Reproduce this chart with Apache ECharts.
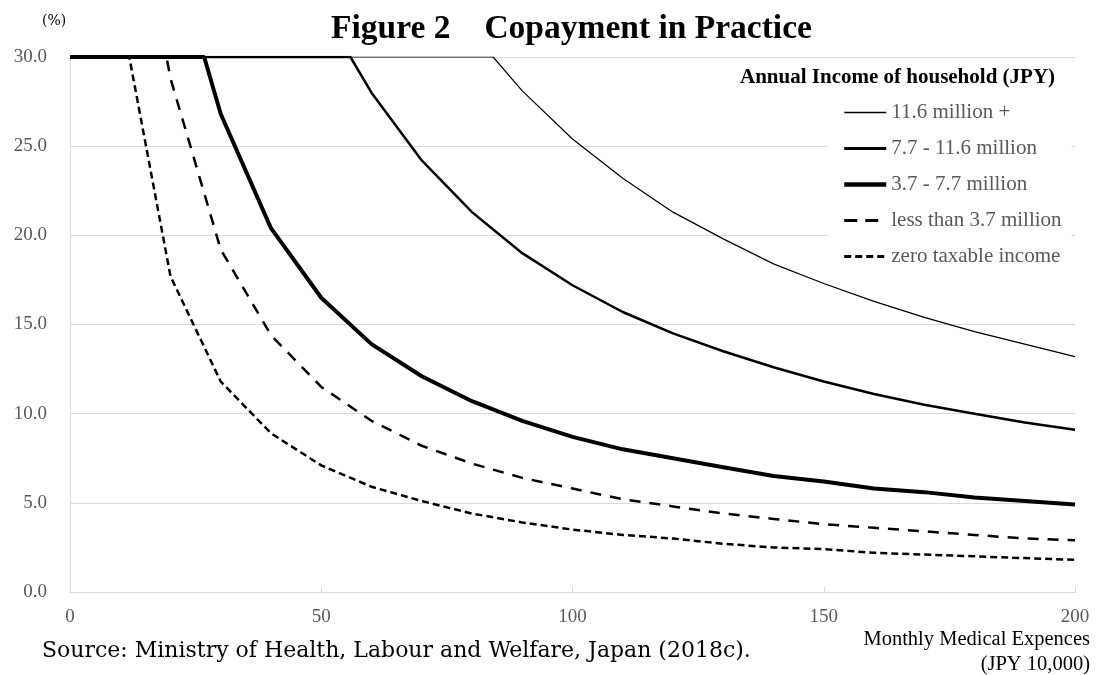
<!DOCTYPE html>
<html>
<head>
<meta charset="utf-8">
<script src="https://cdn.jsdelivr.net/npm/echarts@6/dist/echarts.min.js"></script>
<style>
  html, body { margin: 0; padding: 0; background: #fff; }
  #chart { width: 1097px; height: 675px; }
</style>
</head>
<body>
<div id="chart"></div>
<script>
// monthly medical expenses (JPY 10,000)
var expense = [0, 10, 20, 30, 40, 50, 60, 70, 80, 90, 100, 110, 120, 130, 140, 150, 160, 170, 180, 190, 200];

// point where each line leaves the 30% ceiling
var kinkHigh = 84.2;
var kinkUpper = 55.8;
var kinkMiddle = 26.7;
var kinkLow = 19.2;
var kinkZero = 11.8;

// copayment ratio (%) read at each expense value
var rateHigh = [30, 30, 30, 30, 30, 30, 30, 30, 30, 28.1, 25.4, 23.2, 21.3, 19.8, 18.4, 17.3, 16.3, 15.4, 14.6, 13.9, 13.2];
var rateUpper = [30, 30, 30, 30, 30, 30, 28.0, 24.2, 21.3, 19.0, 17.2, 15.7, 14.5, 13.5, 12.6, 11.8, 11.1, 10.5, 10.0, 9.5, 9.1];
var rateMiddle = [30, 30, 30, 26.8, 20.4, 16.5, 13.9, 12.1, 10.7, 9.6, 8.7, 8.0, 7.5, 7.0, 6.5, 6.2, 5.8, 5.6, 5.3, 5.1, 4.9];
var rateLow = [30, 30, 28.8, 19.2, 14.4, 11.5, 9.6, 8.2, 7.2, 6.4, 5.8, 5.2, 4.8, 4.4, 4.1, 3.8, 3.6, 3.4, 3.2, 3.0, 2.9];
var rateZero = [30, 30, 17.7, 11.8, 8.9, 7.1, 5.9, 5.1, 4.4, 3.9, 3.5, 3.2, 3.0, 2.7, 2.5, 2.4, 2.2, 2.1, 2.0, 1.9, 1.8];

var names = ['11.6 million +', '7.7 - 11.6 million', '3.7 - 7.7 million', 'less than 3.7 million', 'zero taxable income'];

function buildData(rates, kink) {
    var out = [];
    var added = false;
    for (var i = 0; i < expense.length; i++) {
        if (!added && expense[i] > kink) {
            out.push([kink, 30]);
            added = true;
        }
        out.push([expense[i], rates[i]]);
    }
    return out;
}

// line look for the plot, and a slightly different dash for the legend swatch
var styles = [
    { width: 1.2, type: 'solid', legendType: 'solid' },
    { width: 2.5, type: 'solid', legendType: 'solid' },
    { width: 4, type: 'solid', legendType: 'solid' },
    { width: 2.5, type: [11, 9], legendType: [13, 8] },
    { width: 2.5, type: [7, 4], legendType: [7, 4] }
];

function lineSeries(i, rates, kink) {
    return {
        name: names[i],
        type: 'line',
        symbol: 'none',
        smooth: false,
        data: buildData(rates, kink),
        lineStyle: { color: '#000', width: styles[i].width, type: styles[i].type, cap: 'butt' },
        itemStyle: { color: '#000' }
    };
}

var serif = 'Liberation Serif';
var chart = echarts.init(document.getElementById('chart'));
chart.setOption({
    backgroundColor: '#fff',
    animation: false,
    title: {
        text: 'Figure 2\u3000Copayment in Practice',
        left: 326,
        top: 7,
        textStyle: { fontFamily: serif, fontWeight: 'bold', fontSize: 33.5, color: '#000' }
    },
    grid: { left: 70, right: 22, top: 57, bottom: 83 },
    legend: {
        orient: 'vertical',
        left: 828,
        top: 100,
        itemWidth: 42,
        itemHeight: 14,
        itemGap: 15,
        padding: [2, 10, 2, 14],
        backgroundColor: '#fff',
        itemStyle: { color: 'transparent', opacity: 0, borderWidth: 0 },
        textStyle: { fontFamily: serif, fontSize: 21, color: '#595959' },
        data: names.map(function (n, i) {
            return { name: n, lineStyle: { color: '#000', width: styles[i].width + 0.5, type: styles[i].legendType } };
        })
    },
    xAxis: {
        type: 'value',
        min: 0,
        max: 200,
        interval: 50,
        splitLine: { show: false },
        axisLine: { show: true, lineStyle: { color: '#d9d9d9', width: 1 } },
        axisTick: { show: true, inside: true, length: 5, lineStyle: { color: '#d9d9d9' } },
        axisLabel: { fontFamily: serif, fontSize: 19, color: '#595959', margin: 16 }
    },
    yAxis: {
        type: 'value',
        min: 0,
        max: 30,
        interval: 5,
        axisLine: { show: true, lineStyle: { color: '#d9d9d9', width: 1 } },
        axisTick: { show: false },
        splitLine: { lineStyle: { color: '#d9d9d9', width: 1 } },
        axisLabel: {
            fontFamily: serif, fontSize: 19, color: '#595959', margin: 23,
            formatter: function (v) { return v.toFixed(1); }
        }
    },
    graphic: [
        { type: 'text', left: 42, top: 14, style: { text: '(%)', fontFamily: 'DejaVu Serif', fontSize: 14, fill: '#000' } },
        { type: 'text', left: 740, top: 67, style: { text: 'Annual Income of household (JPY)', fontFamily: serif, fontWeight: 'bold', fontSize: 21, fill: '#000' } },
        { type: 'text', left: 42, top: 640, style: { text: 'Source: Ministry of Health, Labour and Welfare, Japan (2018c).', fontFamily: 'DejaVu Serif', fontSize: 22, fill: '#000' } },
        { type: 'text', right: 7, top: 629, style: { text: 'Monthly Medical Expences', fontFamily: serif, fontSize: 20.5, fill: '#000', align: 'right' } },
        { type: 'text', right: 7, top: 654, style: { text: '(JPY 10,000)', fontFamily: serif, fontSize: 20.5, fill: '#000', align: 'right' } }
    ],
    series: [
        lineSeries(0, rateHigh, kinkHigh),
        lineSeries(1, rateUpper, kinkUpper),
        lineSeries(2, rateMiddle, kinkMiddle),
        lineSeries(3, rateLow, kinkLow),
        lineSeries(4, rateZero, kinkZero)
    ]
});
</script>
</body>
</html>
